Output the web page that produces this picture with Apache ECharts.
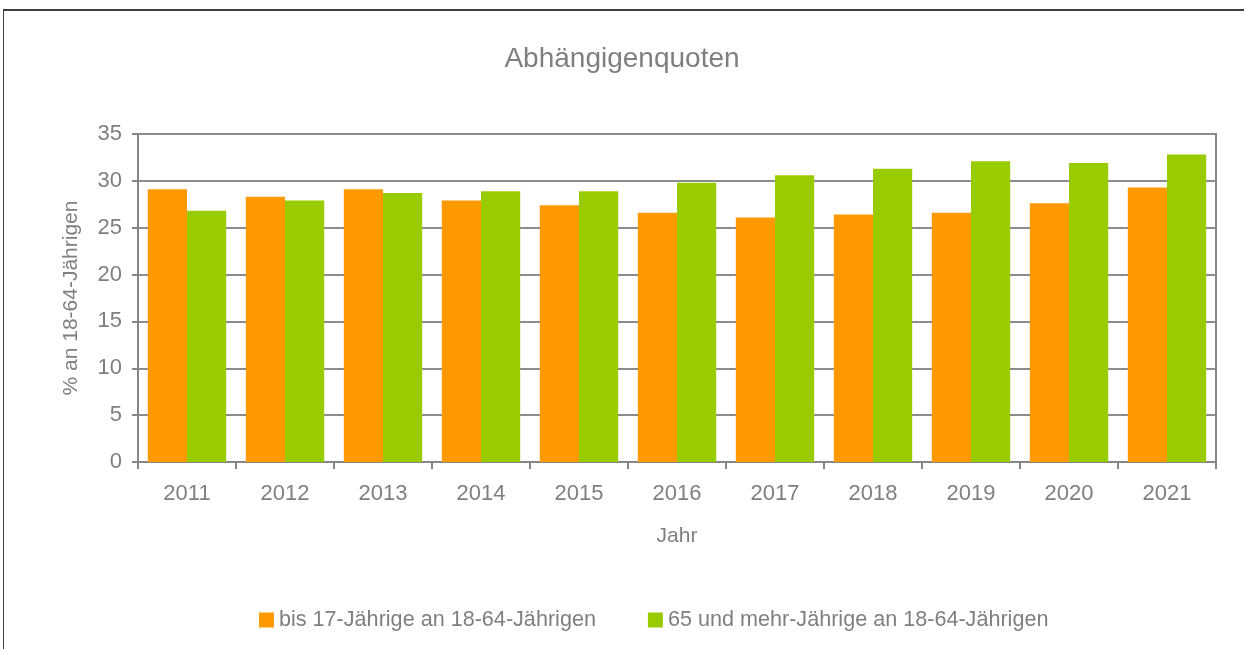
<!DOCTYPE html>
<html>
<head>
<meta charset="utf-8">
<script src="https://cdn.jsdelivr.net/npm/echarts@6/dist/echarts.min.js"></script>
<style>
  html, body { margin: 0; padding: 0; background: #fff; }
  #chart { width: 1244px; height: 649px; }
  #frame {
    position: absolute; left: 3px; top: 9px; width: 1241px; height: 640px;
    border-top: 2px solid #3f3f3f; border-left: 1px solid #3f3f3f;
    box-sizing: border-box; pointer-events: none;
  }
</style>
</head>
<body>
<div id="chart"></div>
<div id="frame"></div>
<script>
// Daten
var years = ["2011", "2012", "2013", "2014", "2015", "2016", "2017", "2018", "2019", "2020", "2021"];
var jung = [29.1, 28.3, 29.1, 27.9, 27.4, 26.6, 26.1, 26.4, 26.6, 27.6, 29.3];
var alt = [26.8, 27.9, 28.7, 28.9, 28.9, 29.8, 30.6, 31.3, 32.1, 31.9, 32.8];
var nameJung = "bis 17-Jährige an 18-64-Jährigen";
var nameAlt = "65 und mehr-Jährige an 18-64-Jährigen";

var textColor = "#7f7f7f";
var lineColor = "#868686";
var font = "Liberation Sans, Arial, sans-serif";

var myChart = echarts.init(document.getElementById("chart"));
myChart.setOption({
  animation: false,
  textStyle: { fontFamily: font },
  title: {
    text: "Abhängigenquoten",
    left: "center",
    top: 40,
    textStyle: { fontSize: 28, fontWeight: "normal", color: textColor, fontFamily: font }
  },
  grid: {
    left: 138, right: 28, top: 134, bottom: 187,
    show: true, borderColor: lineColor, borderWidth: 2
  },
  legend: {
    left: 254,
    top: 604,
    itemWidth: 15,
    itemHeight: 15,
    itemGap: 52,
    icon: "rect",
    textStyle: { fontSize: 21.6, color: textColor, fontFamily: font },
    data: [nameJung, nameAlt]
  },
  xAxis: {
    type: "category",
    data: years,
    name: "Jahr",
    nameLocation: "middle",
    nameGap: 64,
    nameTextStyle: { fontSize: 21, color: textColor, fontFamily: font },
    axisLine: { lineStyle: { color: lineColor, width: 2 } },
    axisTick: { show: true, length: 7, lineStyle: { color: lineColor, width: 2 } },
    axisLabel: { fontSize: 22, color: textColor, margin: 21, fontFamily: font }
  },
  yAxis: {
    type: "value",
    min: 0,
    max: 35,
    interval: 5,
    name: "% an 18-64-Jährigen",
    nameLocation: "middle",
    nameGap: 56,
    nameTextStyle: { fontSize: 21, color: textColor, fontFamily: font },
    axisLine: { show: true, lineStyle: { color: lineColor, width: 2 } },
    axisTick: { show: true, length: 6, lineStyle: { color: lineColor, width: 2 } },
    axisLabel: { fontSize: 22, color: textColor, margin: 16, fontFamily: font },
    splitLine: { show: true, lineStyle: { color: "#8c8c8c", width: 2 } }
  },
  series: [
    {
      name: nameJung,
      type: "bar",
      data: jung,
      barGap: "0%",
      barCategoryGap: "20%",
      itemStyle: { color: "#ff9900" }
    },
    {
      name: nameAlt,
      type: "bar",
      data: alt,
      barGap: "0%",
      barCategoryGap: "20%",
      itemStyle: { color: "#99cc00" }
    }
  ]
});
</script>
</body>
</html>
